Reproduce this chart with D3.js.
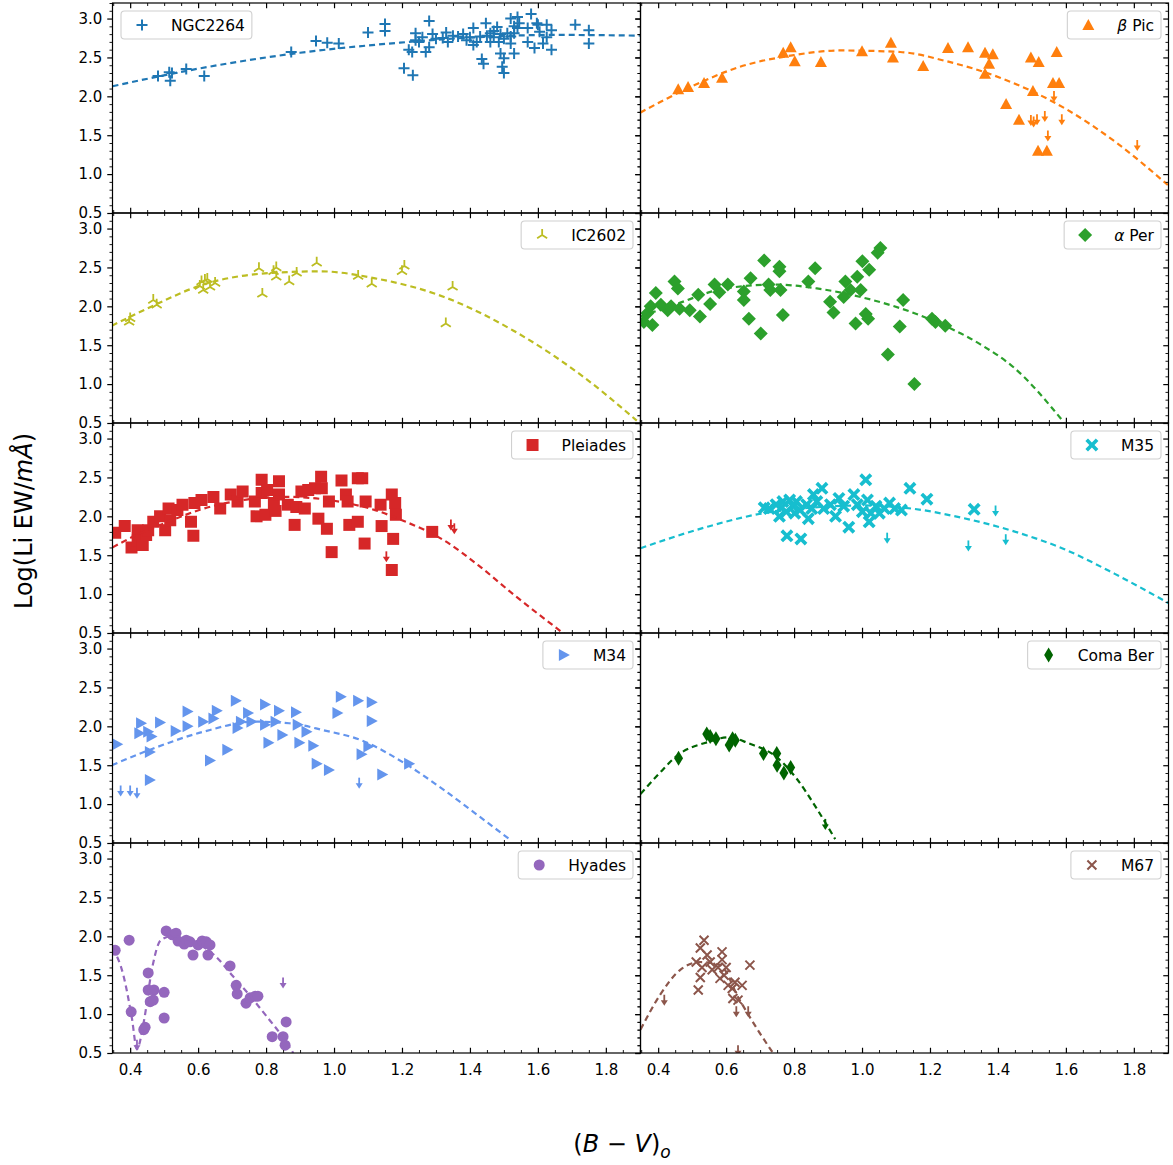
<!DOCTYPE html>
<html>
<head>
<meta charset="utf-8">
<script src="https://cdn.jsdelivr.net/npm/d3@7"></script>
<style>
body { margin: 0; background: #fff; }
svg { display: block; font-family: "DejaVu Sans", sans-serif; }
</style>
</head>
<body>
<script>
// ---- data: [B-V, log EW] ----
const ngc2264 = [[0.482,2.26],[0.515,2.31],[0.518,2.20],[0.523,2.30],[0.565,2.35],[0.618,2.26],[0.874,2.57],[0.947,2.71],[0.98,2.69],[1.014,2.68],[1.10,2.82],[1.15,2.93],[1.15,2.84],
  [1.206,2.36],[1.232,2.27],[1.22,2.60],[1.23,2.57],[1.24,2.81],[1.24,2.72],[1.25,2.70],[1.26,2.76],[1.27,2.57],[1.28,2.97],[1.29,2.80],[1.28,2.63],[1.30,2.74],[1.32,2.75],[1.33,2.82],[1.335,2.70],
  [1.35,2.78],[1.365,2.77],[1.38,2.80],[1.39,2.72],[1.40,2.76],[1.41,2.88],[1.41,2.66],[1.42,2.70],[1.43,2.77],[1.435,2.48],[1.44,2.42],[1.447,2.94],[1.45,2.78],[1.46,2.81],[1.46,2.70],
  [1.47,2.76],[1.47,2.84],[1.48,2.89],[1.485,2.70],[1.49,2.55],[1.49,2.80],[1.495,2.38],[1.50,2.30],[1.50,2.49],[1.50,2.74],[1.51,2.81],[1.52,3.00],[1.52,2.68],[1.52,2.77],[1.53,2.81],
  [1.53,2.55],[1.53,2.90],[1.54,3.02],[1.54,2.88],[1.545,2.94],[1.57,2.88],[1.57,2.70],[1.58,3.06],[1.59,2.62],[1.597,2.94],[1.60,2.92],[1.605,2.83],[1.615,2.68],[1.626,2.92],
  [1.626,2.76],[1.64,2.85],[1.64,2.60],[1.71,2.92],[1.75,2.85],[1.75,2.68]];
const ngc2264Lim = [];
const ngc2264Fit = [[0.348,2.13],[0.606,2.36],[0.9,2.56],[1.194,2.69],[1.42,2.76],[1.644,2.79],[1.9,2.78]];

const betaPic = [[0.459,2.09],[0.488,2.12],[0.535,2.17],[0.588,2.24],[0.768,2.56],[0.79,2.63],[0.802,2.45],[0.879,2.44],[1.0,2.58],[1.085,2.69],[1.091,2.50],[1.18,2.39],
  [1.253,2.62],[1.312,2.63],[1.362,2.56],[1.385,2.54],[1.374,2.42],[1.362,2.29],[1.497,2.50],[1.52,2.44],[1.573,2.57],[1.562,2.17],[1.58,2.17],[1.503,2.07],[1.424,1.90],
  [1.462,1.70],[1.518,1.30],[1.544,1.30]];
const betaPicLim = [[1.565,2.07],[1.497,1.76],[1.505,1.74],[1.515,1.77],[1.538,1.81],[1.588,1.77],[1.547,1.56],[1.81,1.44]];
const betaPicFit = [[0.347,1.79],[0.5,2.13],[0.641,2.38],[0.8,2.53],[0.935,2.59],[1.112,2.57],[1.25,2.45],[1.406,2.24],[1.603,1.83],[1.75,1.40],[1.9,0.86]];

const ic2602 = [[0.397,1.80],[0.40,1.845],[0.468,2.08],[0.478,2.02],[0.605,2.26],[0.61,2.32],[0.62,2.34],[0.627,2.35],[0.615,2.21],[0.635,2.25],[0.65,2.30],[0.779,2.49],
  [0.789,2.16],[0.822,2.45],[0.83,2.50],[0.83,2.38],[0.868,2.32],[0.89,2.43],[0.949,2.56],[1.071,2.39],[1.111,2.29],[1.20,2.45],[1.207,2.52],[1.329,1.78],[1.349,2.25]];
const ic2602Lim = [];
const ic2602Fit = [[0.346,1.75],[0.45,1.97],[0.615,2.28],[0.817,2.43],[0.959,2.45],[1.121,2.36],[1.324,2.12],[1.527,1.69],[1.729,1.11],[1.891,0.53]];

const alphaPer = [[0.358,1.80],[0.368,1.91],[0.383,1.76],[0.393,2.17],[0.378,2.00],[0.408,2.02],[0.428,1.95],[0.448,2.32],[0.458,2.23],[0.438,2.00],[0.463,1.97],[0.493,1.95],
  [0.518,2.15],[0.523,1.87],[0.553,2.03],[0.566,2.28],[0.58,2.18],[0.605,2.28],[0.652,2.19],[0.652,2.08],[0.667,1.84],[0.672,2.36],[0.702,1.65],[0.712,2.59],[0.725,2.28],
  [0.73,2.21],[0.757,2.51],[0.757,2.45],[0.76,2.21],[0.767,1.89],[0.842,2.32],[0.862,2.49],[0.906,2.06],[0.916,1.92],[0.951,2.32],[0.946,2.12],[0.966,2.21],[0.986,2.38],
  [0.996,2.21],[1.001,2.58],[0.981,1.78],[1.011,1.90],[1.018,1.84],[1.021,2.47],[1.046,2.69],[1.054,2.75],[1.076,1.38],[1.111,1.74],[1.121,2.08],[1.154,1.00],[1.206,1.84],
  [1.216,1.80],[1.245,1.75]];
const alphaPerLim = [];
const alphaPerFit = [[0.348,1.87],[0.448,2.02],[0.597,2.23],[0.747,2.28],[0.867,2.23],[0.996,2.12],[1.196,1.84],[1.345,1.52],[1.445,1.22],[1.594,0.51]];

const pleiades = [[0.356,1.79],[0.384,1.875],[0.404,1.60],[0.422,1.82],[0.422,1.69],[0.437,1.63],[0.447,1.76],[0.453,1.82],[0.468,1.93],[0.488,2.00],[0.503,1.82],[0.513,2.10],
  [0.518,1.95],[0.539,2.08],[0.554,2.15],[0.579,1.93],[0.586,1.75],[0.589,2.17],[0.61,2.21],[0.645,2.25],[0.665,2.10],[0.696,2.28],[0.716,2.19],[0.731,2.32],[0.767,2.19],
  [0.772,2.00],[0.787,2.47],[0.787,2.30],[0.803,2.34],[0.798,2.02],[0.823,2.17],[0.828,2.07],[0.838,2.45],[0.838,2.28],[0.864,2.15],[0.884,1.89],[0.889,2.12],[0.914,2.10],
  [0.904,2.32],[0.924,2.34],[0.944,2.36],[0.962,2.51],[0.964,2.36],[0.954,1.97],[0.979,1.84],[0.985,2.19],[0.993,1.54],[1.022,2.46],[1.035,2.28],[1.04,2.19],[1.045,1.89],
  [1.07,1.93],[1.07,2.49],[1.083,2.49],[1.09,1.65],[1.093,2.19],[1.137,2.15],[1.14,1.875],[1.17,2.28],[1.174,1.71],[1.17,1.31],[1.18,2.17],[1.182,2.02],[1.289,1.80]];
const pleiadesLim = [[1.154,1.55],[1.344,1.96],[1.354,1.91]];
const pleiadesFit = [[0.348,1.60],[0.4,1.72],[0.5,1.91],[0.65,2.14],[0.86,2.25],[1.0,2.20],[1.121,2.08],[1.2,1.95],[1.324,1.69],[1.425,1.37],[1.527,1.0],[1.68,0.48]];

const m35 = [[0.712,2.11],[0.727,2.10],[0.747,2.15],[0.762,2.11],[0.767,2.19],[0.757,2.00],[0.777,2.06],[0.787,2.21],[0.797,2.13],[0.802,2.04],[0.807,2.19],[0.817,2.08],
  [0.837,2.15],[0.842,1.97],[0.852,2.10],[0.857,2.28],[0.867,2.19],[0.882,2.36],[0.887,2.10],[0.907,2.15],[0.922,2.00],[0.932,2.23],[0.946,2.13],[0.961,1.86],[0.976,2.28],
  [0.986,2.15],[1.001,2.06],[1.011,2.47],[1.016,2.21],[1.021,1.93],[1.026,2.04],[1.041,2.13],[1.051,2.04],[1.066,2.10],[1.081,2.17],[1.096,2.10],[1.116,2.08],[1.141,2.36],
  [1.191,2.22],[1.33,2.09],[0.779,1.75],[0.82,1.71]];
const m35Lim = [[1.074,1.79],[1.313,1.69],[1.393,2.14],[1.423,1.77]];
const m35Fit = [[0.348,1.59],[0.548,1.87],[0.697,2.03],[0.85,2.11],[1.0,2.14],[1.146,2.10],[1.295,1.98],[1.445,1.81],[1.594,1.58],[1.744,1.26],[1.904,0.88]];

const m34 = [[0.362,1.77],[0.432,2.04],[0.427,1.91],[0.453,1.93],[0.463,1.87],[0.458,1.67],[0.458,1.31],[0.488,2.05],[0.534,1.94],[0.569,2.19],[0.569,2.00],[0.615,2.06],
  [0.645,2.10],[0.655,2.20],[0.635,1.56],[0.686,1.70],[0.711,2.33],[0.716,1.98],[0.747,2.17],[0.726,2.06],[0.757,2.06],[0.797,2.28],[0.797,2.02],[0.807,1.79],[0.828,2.06],
  [0.838,2.20],[0.848,1.89],[0.888,2.18],[0.893,2.02],[0.898,1.79],[0.919,1.93],[0.939,1.75],[0.949,1.52],[0.985,1.44],[1.01,2.17],[1.02,2.38],[1.071,2.33],[1.081,1.64],
  [1.101,1.74],[1.111,2.31],[1.111,2.07],[1.142,1.38],[1.221,1.52]];
const m34Lim = [[0.372,1.24],[0.40,1.24],[0.42,1.21],[1.074,1.34]];
const m34Fit = [[0.346,1.50],[0.453,1.69],[0.615,1.93],[0.767,2.06],[0.868,2.04],[0.969,1.95],[1.081,1.82],[1.202,1.54],[1.324,1.18],[1.425,0.85],[1.522,0.53]];

const comaBer = [[0.46,1.59],[0.543,1.90],[0.553,1.87],[0.57,1.84],[0.609,1.76],[0.619,1.84],[0.627,1.82],[0.71,1.65],[0.749,1.65],[0.75,1.50],[0.77,1.40],[0.79,1.47]];
const comaBerLim = [[0.892,0.81]];
const comaBerFit = [[0.348,1.13],[0.398,1.37],[0.458,1.63],[0.548,1.80],[0.607,1.86],[0.667,1.78],[0.747,1.61],[0.807,1.33],[0.867,0.94],[0.921,0.55]];

const hyades = [[0.356,1.82],[0.397,1.95],[0.403,1.03],[0.44,0.80],[0.444,0.83],[0.453,1.53],[0.453,1.31],[0.459,1.16],[0.47,1.31],[0.468,1.18],[0.50,1.28],[0.50,0.95],
  [0.506,2.07],[0.524,2.02],[0.535,2.04],[0.541,1.94],[0.559,1.90],[0.565,1.95],[0.576,1.93],[0.585,1.76],[0.60,1.89],[0.612,1.94],[0.624,1.93],[0.635,1.89],[0.629,1.76],
  [0.694,1.62],[0.712,1.37],[0.715,1.26],[0.741,1.14],[0.753,1.21],[0.768,1.23],[0.776,1.23],[0.818,0.71],[0.85,0.71],[0.856,0.60],[0.859,0.90]];
const hyadesLim = [[0.42,0.67],[0.85,1.47]];
const hyadesFit = [[0.348,1.85],[0.38,1.50],[0.405,0.95],[0.42,0.55],[0.44,0.90],[0.465,1.60],[0.49,1.95],[0.52,2.00],[0.60,1.90],[0.65,1.75],[0.70,1.50],[0.75,1.25],[0.80,0.98],[0.85,0.70],[0.88,0.50]];

const m67 = [[0.535,1.95],[0.524,1.85],[0.544,1.76],[0.512,1.67],[0.553,1.67],[0.529,1.60],[0.559,1.57],[0.524,1.47],[0.588,1.80],[0.588,1.70],[0.576,1.60],[0.594,1.50],
  [0.60,1.60],[0.518,1.31],[0.582,1.46],[0.606,1.37],[0.618,1.33],[0.626,1.41],[0.647,1.37],[0.67,1.63],[0.635,1.18],[0.62,1.20]];
const m67Lim = [[0.418,1.25],[0.63,1.10],[0.665,1.10],[0.635,0.60]];
const m67Fit = [[0.348,0.80],[0.406,1.25],[0.465,1.57],[0.524,1.67],[0.582,1.63],[0.64,1.18],[0.70,0.75],[0.738,0.50]];

const clusterNames = ["NGC2264", "β Pic", "IC2602", "α Per", "Pleiades", "M35", "M34", "Coma Ber", "Hyades", "M67"];
const clusterColors = ["#1f77b4", "#ff7f0e", "#bcbd22", "#2ca02c", "#d62728", "#17becf", "#6495ed", "#006400", "#9467bd", "#8c564b"];
const clusterMarkers = ["plus", "triUp", "tri2", "diamond", "square", "xFilled", "triRight", "thinDiamond", "circle", "x"];

const xTickLabels = [0.4, 0.6, 0.8, 1.0, 1.2, 1.4, 1.6, 1.8];
const yTickLabels = [0.5, 1.0, 1.5, 2.0, 2.5, 3.0];

// ---- layout ----
const W = 1173, H = 1165;
const colX = [112.5, 640.5], colW = 528;
const rowTop = 3, rowH = 210;
const xDomain = [0.348, 1.902], yDomain = [0.5, 3.2];

const panels = [
  {pts: ngc2264, lim: ngc2264Lim, fit: ngc2264Fit},
  {pts: betaPic, lim: betaPicLim, fit: betaPicFit},
  {pts: ic2602, lim: ic2602Lim, fit: ic2602Fit},
  {pts: alphaPer, lim: alphaPerLim, fit: alphaPerFit},
  {pts: pleiades, lim: pleiadesLim, fit: pleiadesFit},
  {pts: m35, lim: m35Lim, fit: m35Fit},
  {pts: m34, lim: m34Lim, fit: m34Fit},
  {pts: comaBer, lim: comaBerLim, fit: comaBerFit},
  {pts: hyades, lim: hyadesLim, fit: hyadesFit},
  {pts: m67, lim: m67Lim, fit: m67Fit}
].map((p, i) => Object.assign(p, {name: clusterNames[i], color: clusterColors[i], marker: clusterMarkers[i]}));

const xMinor = d3.range(7, 39).filter(k => k % 4 !== 0).map(k => k * 0.05);
const yMinor = d3.range(5, 33).filter(k => k % 5 !== 0).map(k => k * 0.1);

// marker shapes (drawn around 0,0)
const markerDefs = {
  plus:        {d: "M-5.5,0H5.5M0,-5.5V5.5", stroke: 2},
  triUp:       {d: "M0,-6L6,5L-6,5Z"},
  tri2:        {d: "M0,0V-6M0,0L5,3.2M0,0L-5,3.2", stroke: 1.8},
  diamond:     {d: "M0,-7L7,0L0,7L-7,0Z"},
  square:      {d: "M-6,-6H6V6H-6Z"},
  xFilled:     {d: "M-6.5,-3.9L-3.9,-6.5L0,-2.6L3.9,-6.5L6.5,-3.9L2.6,0L6.5,3.9L3.9,6.5L0,2.6L-3.9,6.5L-6.5,3.9L-2.6,0Z"},
  triRight:    {d: "M6,0L-5,-6L-5,6Z"},
  thinDiamond: {d: "M0,-7.5L4.5,0L0,7.5L-4.5,0Z"},
  circle:      {d: "M5.5,0A5.5,5.5 0 1,1 -5.5,0A5.5,5.5 0 1,1 5.5,0Z"},
  x:           {d: "M-4.5,-4.5L4.5,4.5M-4.5,4.5L4.5,-4.5", stroke: 2}
};

function drawMarker(sel, type, color) {
  const m = markerDefs[type];
  sel.attr("d", m.d)
    .attr("fill", m.stroke ? "none" : color)
    .attr("stroke", m.stroke ? color : "none")
    .attr("stroke-width", m.stroke || 0)
    .attr("stroke-linecap", "butt");
}

const svg = d3.select("body").append("svg")
  .attr("width", W)
  .attr("height", H);

svg.append("rect").attr("width", W).attr("height", H).attr("fill", "#fff");

const fmt = d3.format(".1f");

panels.forEach((p, i) => {
  const row = Math.floor(i / 2), col = i % 2;
  const top = rowTop + row * rowH, bottom = top + rowH;
  const left = colX[col], right = left + colW;
  const x = d3.scaleLinear().domain(xDomain).range([left, right]);
  const y = d3.scaleLinear().domain(yDomain).range([bottom, top]);
  const showX = row === 4, showY = col === 0;

  const g = svg.append("g");
  const clipId = "clip" + i;
  g.append("clipPath").attr("id", clipId)
    .append("rect").attr("x", left).attr("y", top).attr("width", colW).attr("height", rowH);

  const plot = g.append("g").attr("clip-path", "url(#" + clipId + ")");

  // points
  plot.selectAll("path.pt").data(p.pts).join("path")
    .attr("class", "pt")
    .attr("transform", d => "translate(" + x(d[0]) + "," + y(d[1]) + ")")
    .call(drawMarker, p.marker, p.color);

  // upper limits (arrows)
  const lims = plot.selectAll("g.lim").data(p.lim).join("g")
    .attr("class", "lim")
    .attr("transform", d => "translate(" + x(d[0]) + "," + y(d[1]) + ")");
  lims.append("path").attr("d", "M0,0V7").attr("stroke", p.color).attr("stroke-width", 1.8);
  lims.append("path").attr("d", "M-3.5,5.5L3.5,5.5L0,11Z").attr("fill", p.color);

  // fitted curve
  const line = d3.line().x(d => x(d[0])).y(d => y(d[1])).curve(d3.curveMonotoneX);
  plot.append("path")
    .attr("d", line(p.fit))
    .attr("fill", "none")
    .attr("stroke", p.color)
    .attr("stroke-width", 2.2)
    .attr("stroke-dasharray", "6,4");

  // axes
  const styleAxis = (a, w) => {
    a.select(".domain").remove();
    a.selectAll("line").attr("stroke", "#000").attr("stroke-width", w);
    a.selectAll("text").attr("font-family", "DejaVu Sans").attr("font-size", 15).attr("fill", "#000");
  };
  g.append("g").attr("transform", "translate(0," + bottom + ")")
    .call(d3.axisBottom(x).tickValues(xTickLabels).tickSize(-5.25).tickPadding(11).tickFormat(showX ? fmt : ""))
    .call(styleAxis, 1.2);
  g.append("g").attr("transform", "translate(0," + bottom + ")")
    .call(d3.axisBottom(x).tickValues(xMinor).tickSize(-3).tickFormat(""))
    .call(styleAxis, 0.9);
  g.append("g").attr("transform", "translate(0," + top + ")")
    .call(d3.axisTop(x).tickValues(xTickLabels).tickSize(-5.25).tickFormat(""))
    .call(styleAxis, 1.2);
  g.append("g").attr("transform", "translate(0," + top + ")")
    .call(d3.axisTop(x).tickValues(xMinor).tickSize(-3).tickFormat(""))
    .call(styleAxis, 0.9);
  g.append("g").attr("transform", "translate(" + left + ",0)")
    .call(d3.axisLeft(y).tickValues(yTickLabels).tickSize(5.25).tickPadding(5).tickFormat(showY ? fmt : ""))
    .call(styleAxis, 1.2);
  g.append("g").attr("transform", "translate(" + left + ",0)")
    .call(d3.axisLeft(y).tickValues(yMinor).tickSize(3).tickFormat(""))
    .call(styleAxis, 0.9);
  g.append("g").attr("transform", "translate(" + right + ",0)")
    .call(d3.axisRight(y).tickValues(yTickLabels).tickSize(-5.25).tickFormat(""))
    .call(styleAxis, 1.2);
  g.append("g").attr("transform", "translate(" + right + ",0)")
    .call(d3.axisRight(y).tickValues(yMinor).tickSize(-3).tickFormat(""))
    .call(styleAxis, 0.9);

  // spines
  g.append("rect")
    .attr("x", left).attr("y", top).attr("width", colW).attr("height", rowH)
    .attr("fill", "none").attr("stroke", "#000").attr("stroke-width", 1.2);

  // legend
  const leg = g.append("g");
  const box = leg.append("rect");
  const txt = leg.append("text")
    .attr("font-size", 15.5)
    .attr("fill", "#000");
  const parts = p.name.split(" ");
  if (p.name[0] === "β" || p.name[0] === "α") {
    txt.append("tspan").attr("font-style", "italic").text(parts[0]);
    txt.append("tspan").text(" " + parts.slice(1).join(" "));
  } else {
    txt.text(p.name);
  }
  const tw = txt.node().getComputedTextLength();
  const bw = tw + 57, bh = 28;
  const bx = i === 0 ? left + 8.5 : right - 7.5 - bw;
  const by = top + 8;
  box.attr("x", bx).attr("y", by).attr("width", bw).attr("height", bh)
    .attr("rx", 3.5)
    .attr("fill", "#fff").attr("fill-opacity", 0.8)
    .attr("stroke", "#d0d0d0").attr("stroke-width", 1.1);
  leg.append("path")
    .attr("transform", "translate(" + (bx + 21) + "," + (by + bh / 2) + ")")
    .call(drawMarker, p.marker, p.color);
  txt.attr("x", bx + 50).attr("y", by + bh / 2 + 5.5);
});

// axis titles
const yl = svg.append("text")
  .attr("transform", "translate(32,521) rotate(-90)")
  .attr("text-anchor", "middle")
  .attr("font-size", 24);
yl.append("tspan").text("Log(Li EW/");
yl.append("tspan").attr("font-style", "italic").text("mÅ");
yl.append("tspan").text(")");

const xl = svg.append("text")
  .attr("x", 622).attr("y", 1152)
  .attr("text-anchor", "middle")
  .attr("font-size", 24);
xl.append("tspan").text("(");
xl.append("tspan").attr("font-style", "italic").text("B");
xl.append("tspan").text(" − ");
xl.append("tspan").attr("font-style", "italic").text("V");
xl.append("tspan").text(")");
xl.append("tspan").attr("font-style", "italic").attr("font-size", 17).attr("dy", 6).text("o");
</script>
</body>
</html>
